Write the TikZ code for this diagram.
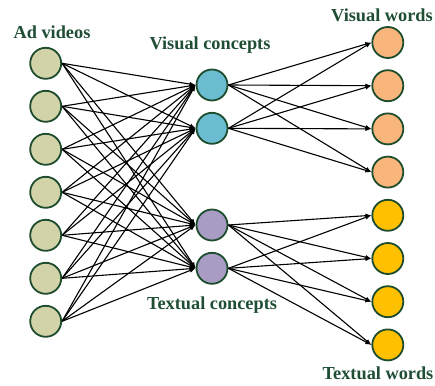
\documentclass[tikz,border=0pt]{standalone}
\usepackage{fontspec}
\setmainfont{Liberation Serif}
\usetikzlibrary{arrows.meta}
\definecolor{bord}{RGB}{30,77,45}
\definecolor{txtc}{RGB}{31,78,53}
\definecolor{adc}{RGB}{211,211,170}
\definecolor{vcc}{RGB}{107,188,209}
\definecolor{tcc}{RGB}{168,155,196}
\definecolor{vwc}{RGB}{248,182,125}
\definecolor{twc}{RGB}{255,192,0}
\tikzset{
  nd/.style={circle,draw=bord,line width=1.8pt,minimum size=31pt,inner sep=0pt},
  adn/.style={nd,fill=adc},
  vcn/.style={nd,fill=vcc},
  tcn/.style={nd,fill=tcc},
  vwn/.style={nd,fill=vwc},
  twn/.style={nd,fill=twc},
  lbl/.style={text=txtc,font=\fontsize{18.3}{21}\selectfont\bfseries,inner sep=0pt},
  edge/.style={line width=1.1pt,-{Latex[length=6pt,width=4.5pt]}}
}
\begin{document}
\begin{tikzpicture}[x=1pt,y=-1pt]
\useasboundingbox (0,0) rectangle (435,385);
\foreach \i in {1,...,7} {
  \node[adn] (a\i) at (45.7,{63.3+43*(\i-1)}) {};
}
\node[vcn] (c1) at (212,85) {};
\node[vcn] (c2) at (212,128.3) {};
\node[tcn] (c3) at (212,225) {};
\node[tcn] (c4) at (212,268.3) {};
\foreach \i in {1,...,4} {
  \node[vwn] (w\i) at (387.8,{42.5+43.2*(\i-1)}) {};
}
\foreach \i in {5,...,8} {
  \node[twn] (w\i) at (387.8,{42.5+43.2*(\i-1)}) {};
}
\foreach \i in {1,...,7} {
  \foreach \j in {1,...,4} {
    \draw[edge] (a\i.east) -- (c\j.west);
  }
}
\foreach \j in {1,2} {
  \foreach \k in {1,...,4} {
    \draw[edge] (c\j.east) -- (w\k.west);
  }
}
\foreach \j in {3,4} {
  \foreach \k in {5,...,8} {
    \draw[edge] (c\j.east) -- (w\k.west);
  }
}
\node[lbl] (l1) at (52,32) {Ad videos};
\node[lbl] (l2) at (210,45) {Visual concepts};
\node[lbl] (l3) at (382,15) {Visual words};
\node[lbl] (l4) at (212,305) {Textual concepts};
\node[lbl] (l5) at (378,373) {Textual words};
\end{tikzpicture}
\end{document}
